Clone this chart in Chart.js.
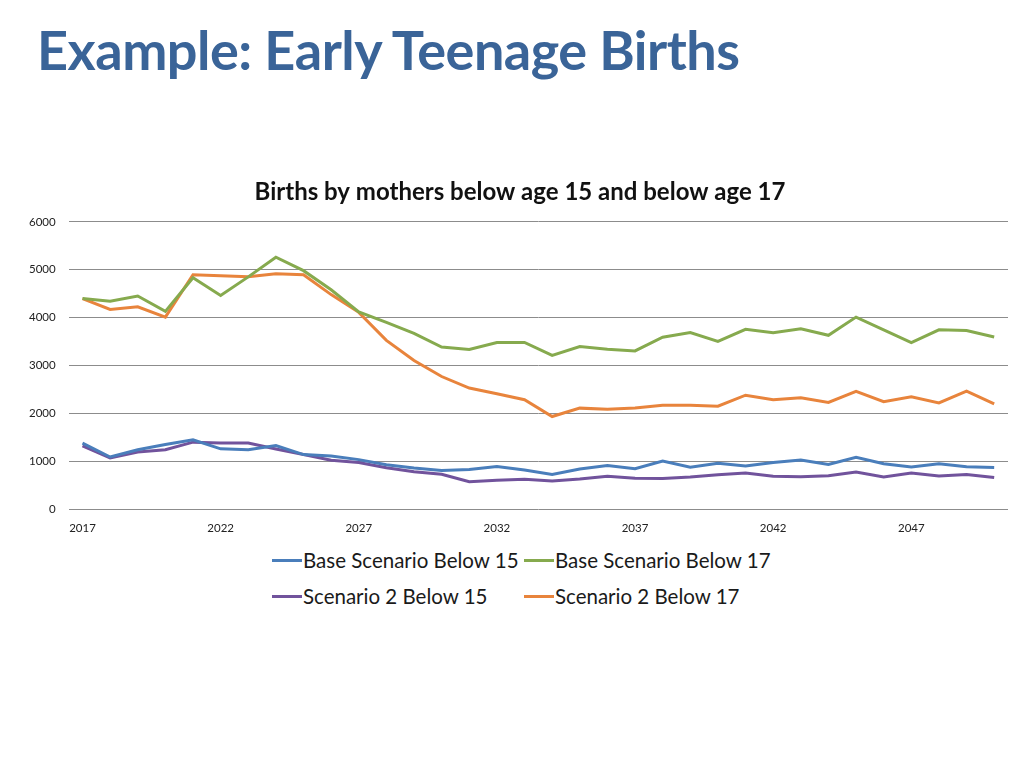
<!DOCTYPE html>
<html>
<head>
<meta charset="utf-8">
<script src="https://cdn.jsdelivr.net/npm/chart.js@4.4.1/dist/chart.umd.min.js"></script>
<style>
  html, body { margin: 0; padding: 0; background: #ffffff; }
  body { width: 1024px; height: 768px; position: relative; overflow: hidden; font-family: Lato, "Open Sans", sans-serif; }
  h1 { position: absolute; left: 37px; top: 17px; margin: 0; font: bold 54px Lato, "Open Sans", sans-serif; color: #3A6498; letter-spacing: -0.5px; }
  #wrap { position: absolute; left: 0; top: 168px; width: 1024px; height: 379px; }
  #legend { position: absolute; left: 272px; top: 548px; display: grid; grid-template-columns: 252px 252px; row-gap: 12px; font: 20.5px Lato, "Open Sans", sans-serif; color: #1a1a1a; }
  .item { display: flex; align-items: center; height: 24px; white-space: nowrap; }
  .swatch { width: 30px; height: 3px; margin-right: 1px; }
</style>
</head>
<body>
<h1>Example: Early Teenage Births</h1>
<div id="wrap"><canvas id="c"></canvas></div>
<div id="legend"></div>
<script>
const years = [];
for (let y = 2017; y <= 2050; y++) years.push(String(y));

const chartTitle = "Births by mothers below age 15 and below age 17";
const yTicks = [0, 1000, 2000, 3000, 4000, 5000, 6000];

const baseBelow15 = [1380, 1090, 1240, 1350, 1450, 1260, 1240, 1330, 1140, 1110, 1035, 930, 860, 810, 830, 890, 820, 725, 840, 910, 845, 1005, 875, 960, 900, 975, 1025, 935, 1085, 950, 880, 950, 885, 870];
const baseBelow17 = [4400, 4340, 4450, 4130, 4830, 4460, 4850, 5260, 4980, 4580, 4120, 3900, 3670, 3385, 3335, 3480, 3480, 3210, 3395, 3340, 3305, 3590, 3690, 3505, 3755, 3685, 3765, 3630, 4010, 3745, 3480, 3745, 3730, 3595];
const scen2Below15 = [1320, 1070, 1195, 1240, 1400, 1380, 1380, 1255, 1140, 1020, 975, 865, 780, 730, 575, 605, 625, 590, 630, 690, 645, 640, 670, 720, 755, 690, 675, 700, 775, 675, 755, 695, 725, 660];
const scen2Below17 = [4395, 4170, 4225, 4010, 4895, 4875, 4855, 4915, 4895, 4480, 4110, 3525, 3105, 2770, 2530, 2410, 2285, 1935, 2110, 2085, 2115, 2170, 2170, 2150, 2380, 2285, 2325, 2230, 2460, 2245, 2345, 2220, 2465, 2200];

const seriesNames = ["Base Scenario Below 15", "Base Scenario Below 17", "Scenario 2 Below 15", "Scenario 2 Below 17"];
const seriesColors = ["#4A7EBB", "#86AA4E", "#71539C", "#E8843C"];
const seriesData = [baseBelow15, baseBelow17, scen2Below15, scen2Below17];
const legendOrder = [0, 1, 2, 3];

const datasets = seriesData.map((d, i) => ({
  label: seriesNames[i],
  data: d,
  yAxisID: 'y',
  borderColor: seriesColors[i],
  backgroundColor: seriesColors[i],
  borderWidth: 3,
  pointRadius: 0,
  tension: 0,
  fill: false
}));

const chart = new Chart(document.getElementById('c'), {
  type: 'line',
  data: { labels: years, datasets: datasets },
  options: {
    responsive: true,
    maintainAspectRatio: false,
    animation: false,
    layout: { padding: { left: 16, right: 0, top: 0, bottom: 0 } },
    plugins: {
      legend: { display: false },
      tooltip: { enabled: false },
      title: {
        display: true,
        text: chartTitle,
        color: '#111111',
        font: { family: 'Lato, "Open Sans", sans-serif', size: 24, weight: 'bold' },
        padding: { top: 10, bottom: 15 }
      }
    },
    scales: {
      x: {
        offset: true,
        grid: { display: false, drawTicks: false },
        border: { display: false },
        ticks: {
          autoSkip: false,
          maxRotation: 0,
          padding: 12,
          color: '#222222',
          font: { family: 'Lato, "Open Sans", sans-serif', size: 11.5 },
          callback: function (val, idx) { return idx % 5 === 0 ? this.getLabelForValue(val) : ''; }
        }
      },
      y: {
        min: yTicks[0],
        max: yTicks[yTicks.length - 1],
        afterBuildTicks: (axis) => { axis.ticks = yTicks.map(v => ({ value: v })); },
        grid: { color: '#8C8C8C', lineWidth: 1, drawTicks: false },
        border: { display: false },
        ticks: {
          padding: 13,
          color: '#222222',
          font: { family: 'Lato, "Open Sans", sans-serif', size: 11.5 },
          callback: (v) => String(v)
        }
      },
      yRight: {
        position: 'right',
        min: yTicks[0],
        max: yTicks[yTicks.length - 1],
        grid: { display: false, drawTicks: false },
        border: { display: false },
        ticks: { display: false },
        afterFit: (axis) => { axis.width = 16; }
      }
    }
  }
});

const legendEl = document.getElementById('legend');
legendOrder.forEach(i => {
  const ds = chart.data.datasets[i];
  const item = document.createElement('div');
  item.className = 'item';
  const sw = document.createElement('span');
  sw.className = 'swatch';
  sw.style.background = ds.borderColor;
  const tx = document.createElement('span');
  tx.textContent = ds.label;
  item.appendChild(sw);
  item.appendChild(tx);
  legendEl.appendChild(item);
});
</script>
</body>
</html>
